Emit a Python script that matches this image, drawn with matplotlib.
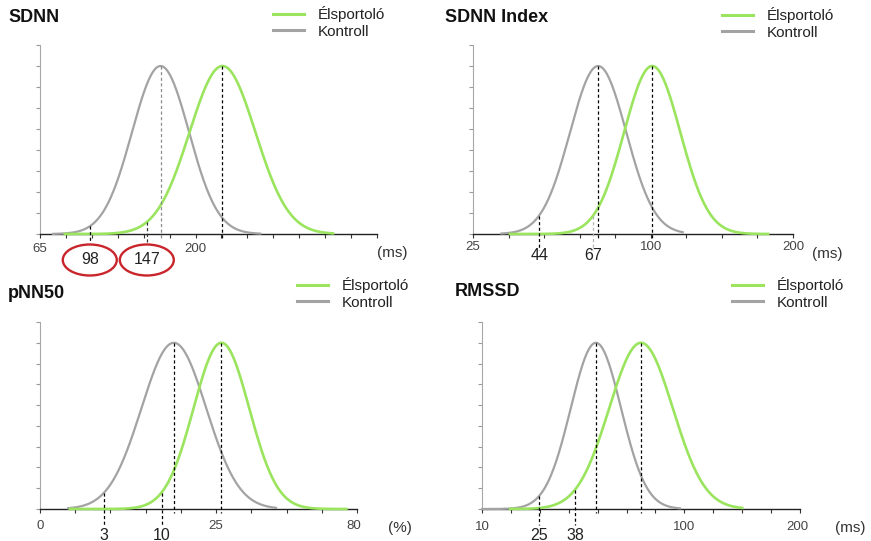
import matplotlib
matplotlib.use("Agg")
import matplotlib.pyplot as plt
import numpy as np
from matplotlib.patches import Ellipse

plt.rcParams['font.family'] = ['Liberation Sans', 'DejaVu Sans']

titles = ["SDNN", "SDNN Index", "pNN50", "RMSSD"]
units = ["(ms)", "(ms)", "(%)", "(ms)"]
n_ticks = [13, 9, 9, 11]
axis_label_pos = [[0, 6], [0, 5, 9], [0, 5, 8.9], [0, 7, 10.9]]
axis_label_txt = [["65", "200"], ["25", "100", "200"], ["0", "25", "80"], ["10", "100", "200"]]

# normal curves, x in axis tick units (schematic axes)
athlete_mean = [7.04, 5.04, 5.15, 5.5]
athlete_sd = [1.27, 0.79, 0.79, 1.1]
athlete_span = [(0.96, 11.3), (1.04, 8.3), (0.85, 8.7), (0.97, 9.0)]
control_mean = [4.65, 3.52, 3.8, 3.94]
control_sd = [1.1, 0.79, 0.92, 0.87]
control_span = [(0.5, 8.5), (0.8, 5.9), (0.8, 6.7), (0.0, 6.85)]

# marked lower limits
control_cut = [1.92, 1.86, 1.81, 1.97]
control_cut_txt = ["98", "44", "3", "25"]
athlete_cut = [4.12, 3.38, 3.45, 3.22]
athlete_cut_txt = ["147", "67", "10", "38"]

GREEN = "#9ae45e"
GRAY = "#a3a3a3"
W, H = 871, 541

# layout in pixels: x0, x1, top, baseline
rects = [(40, 377, 45, 234), (473, 793, 45, 234), (40, 357, 322, 509), (482, 800, 322, 509)]
title_xy = [(8, 17), (445, 17), (8, 293), (455, 292)]
legend_xy = [(273, 6), (722, 7), (297, 277), (732, 277)]
unit_xy = [(392, 253), (827, 254), (400, 528), (850, 528)]
tick_off = [15, 13, 17, 18]
cut_off = [26, 22, 26, 26]
cut_len = [8, 16, 16, 16]
peak_colors = [("#8c8c8c", "black"), ("black", "black"), ("black", "black"), ("black", "black")]
cut_colors = [("black", "#333333"), ("black", "#b5b5b5"), ("black", "black"), ("black", "black")]


def gauss(x, m, s):
    return 8 * np.exp(-0.5 * ((x - m) / s) ** 2)


fig = plt.figure(figsize=(W / 100, H / 100), dpi=100)

for i in range(4):
    x0, x1, top, base = rects[i]
    ax = fig.add_axes([x0 / W, 1 - base / H, (x1 - x0) / W, (base - top) / H])
    n = n_ticks[i]
    ax.set_xlim(0, n)
    ax.set_ylim(0, 9)
    ppu = (base - top) / 9.0
    ppx = (x1 - x0) / n

    xc = np.linspace(*control_span[i], 400)
    xa = np.linspace(*athlete_span[i], 400)
    k, = ax.plot(xc, gauss(xc, control_mean[i], control_sd[i]), color=GRAY, lw=1.6,
                 label="Kontroll", clip_on=False, zorder=3)
    g, = ax.plot(xa, gauss(xa, athlete_mean[i], athlete_sd[i]), color=GREEN, lw=1.9,
                 label="Élsportoló", clip_on=False, zorder=4)

    dash = (0, (2.5, 2))
    # peak lines
    for m, c in zip([control_mean[i], athlete_mean[i]], peak_colors[i]):
        ax.plot([m, m], [8, -4 / ppu], color=c, lw=0.9, ls=dash, clip_on=False, zorder=5)
    # cut lines
    for xv, m, s, c in zip([control_cut[i], athlete_cut[i]],
                           [control_mean[i], athlete_mean[i]],
                           [control_sd[i], athlete_sd[i]], cut_colors[i]):
        ax.plot([xv, xv], [gauss(xv, m, s), -cut_len[i] / ppu], color=c, lw=0.9, ls=dash,
                clip_on=False, zorder=5)
    for xv, t in zip([control_cut[i], athlete_cut[i]], [control_cut_txt[i], athlete_cut_txt[i]]):
        ax.annotate(t, xy=(xv, 0), xytext=(0, -cut_off[i]), textcoords='offset pixels',
                    ha='center', va='center', fontsize=11.5, color='#222222',
                    annotation_clip=False)
        if i == 0:
            ax.add_patch(Ellipse((xv, -cut_off[i] / ppu), 54 / ppx, 31 / ppu, fill=False,
                                 ec="#c9252c", lw=1.7, clip_on=False))

    for xv, t in zip(axis_label_pos[i], axis_label_txt[i]):
        ax.annotate(t, xy=(xv, 0), xytext=(0, -tick_off[i]), textcoords='offset pixels',
                    ha='center', va='center', fontsize=9.5, color='#444444',
                    annotation_clip=False)

    ax.set_xticks(np.arange(n + 1))
    ax.set_yticks(np.arange(10))
    ax.set_xticklabels([])
    ax.set_yticklabels([])
    ax.tick_params(axis='x', length=3, width=0.8, color='#333333', direction='out')
    ax.tick_params(axis='y', length=3, width=0.8, color='#9a9a9a', direction='out')
    ax.spines['top'].set_visible(False)
    ax.spines['right'].set_visible(False)
    ax.spines['left'].set_color('#a8a8a8')
    ax.spines['bottom'].set_color('#222222')
    ax.spines['bottom'].set_linewidth(1.0)

    fig.text(title_xy[i][0] / W, 1 - title_xy[i][1] / H, titles[i], fontsize=13,
             fontweight='bold', va='center', ha='left', color='#111111')
    fig.text(unit_xy[i][0] / W, 1 - unit_xy[i][1] / H, units[i], fontsize=11,
             va='center', ha='center', color='#333333')

    leg = ax.legend(handles=[g, k], loc='upper left',
                    bbox_to_anchor=(legend_xy[i][0] / W, 1 - legend_xy[i][1] / H),
                    bbox_transform=fig.transFigure, frameon=False, fontsize=11,
                    handlelength=2.0, handletextpad=0.9, labelspacing=0.18,
                    borderpad=0, borderaxespad=0)
    for t in leg.get_texts():
        t.set_color('#222222')
    for h in leg.get_lines():
        h.set_linewidth(2.2)

fig.savefig("out.png", dpi=100)
